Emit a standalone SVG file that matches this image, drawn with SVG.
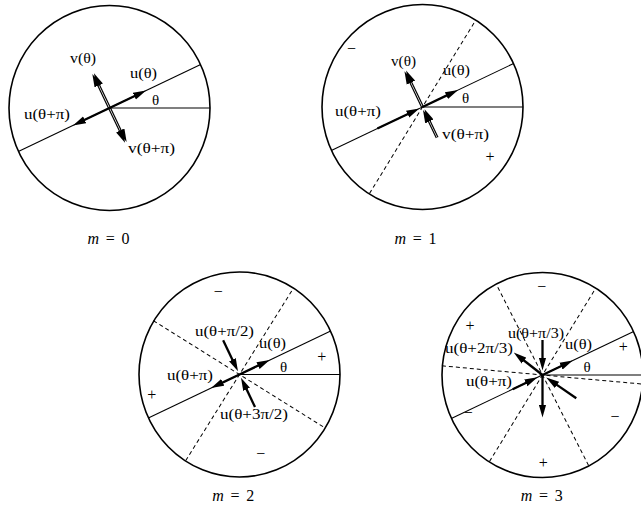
<svg xmlns="http://www.w3.org/2000/svg" width="641" height="518" viewBox="0 0 641 518">
<defs>
<marker id="ah" viewBox="0 0 13 8" refX="4.5" refY="4" markerWidth="13" markerHeight="8" markerUnits="userSpaceOnUse" orient="auto"><path d="M0,0.3 L13,4 L0,7.7 Z" fill="#000"/></marker>
</defs>
<style>
.c{fill:none;stroke:#000;stroke-width:1.6}
.l{stroke:#000;stroke-width:1.1;fill:none}
.d{stroke:#000;stroke-width:1;stroke-dasharray:4 3;fill:none}
.a{stroke:#000;stroke-width:2.3;marker-end:url(#ah)}
.v{stroke:#000;stroke-width:1.2;marker-end:url(#ah)}
text{font-family:"Liberation Serif","Times New Roman",serif;font-size:15px;fill:#000}
.s{font-size:16px;text-anchor:middle}
.m{font-size:16px;text-anchor:middle}
</style>
<rect width="641" height="518" fill="#fff"/>

<g id="panel-m0">
<g transform="translate(109.5,108)">
<ellipse class="c" rx="100.5" ry="102.5"/>
<line class="l" x1="-101" x2="101" transform="rotate(-25.5)"/>
<line class="l" x1="0" x2="100.5"/>
<g id="arrows-m0">
<line class="a" x1="0" x2="32" transform="rotate(-25.5)"/>
<line class="a" x1="0" x2="32" transform="rotate(154.5)"/>
<g transform="rotate(-115.5)"><line class="v" x1="0" y1="-0.9" x2="29.5" y2="-0.9"/><line class="v" x1="0" y1="0.9" x2="29.5" y2="0.9"/></g>
<g transform="rotate(64.5)"><line class="v" x1="0" y1="-0.9" x2="29.5" y2="-0.9"/><line class="v" x1="0" y1="0.9" x2="29.5" y2="0.9"/></g>
</g>
</g>
<text x="70" y="63" textLength="26" lengthAdjust="spacingAndGlyphs">v(θ)</text>
<text x="130" y="78" textLength="27" lengthAdjust="spacingAndGlyphs">u(θ)</text>
<text x="152" y="105">θ</text>
<text x="24" y="119" textLength="46" lengthAdjust="spacingAndGlyphs">u(θ+π)</text>
<text x="128" y="153" textLength="47" lengthAdjust="spacingAndGlyphs">v(θ+π)</text>
<text class="m" x="108.5" y="244" textLength="42" lengthAdjust="spacing"><tspan font-style="italic">m</tspan> = 0</text>
</g>

<g id="panel-m1">
<g transform="translate(422.5,107)">
<ellipse class="c" rx="100.5" ry="102.5"/>
<line class="l" x1="-101" x2="101" transform="rotate(-25.5)"/>
<line class="l" x1="0" x2="100.5"/>
<line class="d" x1="-101.5" x2="101.5" transform="rotate(-58.5)"/>
<g id="arrows-m1">
<line class="a" x1="0" x2="31" transform="rotate(-25.5)"/>
<line class="a" x1="50" x2="12" transform="rotate(154.5)"/>
<g transform="rotate(-115.5)"><line class="v" x1="0" y1="-0.9" x2="31.5" y2="-0.9"/><line class="v" x1="0" y1="0.9" x2="31.5" y2="0.9"/></g>
<g transform="rotate(64.5)"><line class="v" x1="34" y1="-0.9" x2="11.5" y2="-0.9"/><line class="v" x1="34" y1="0.9" x2="11.5" y2="0.9"/></g>
</g>
</g>
<text class="s" x="351.5" y="54">−</text>
<text x="391" y="66" textLength="25" lengthAdjust="spacingAndGlyphs">v(θ)</text>
<text x="443" y="75" textLength="27" lengthAdjust="spacingAndGlyphs">u(θ)</text>
<text x="462" y="103">θ</text>
<text x="335" y="116" textLength="46" lengthAdjust="spacingAndGlyphs">u(θ+π)</text>
<text x="442" y="139" textLength="47" lengthAdjust="spacingAndGlyphs">v(θ+π)</text>
<text class="s" x="490" y="162">+</text>
<text class="m" x="415.5" y="244" textLength="42" lengthAdjust="spacing"><tspan font-style="italic">m</tspan> = 1</text>
</g>

<g id="panel-m2">
<g transform="translate(239.5,374.5)">
<ellipse class="c" rx="100.5" ry="102.5"/>
<line class="l" x1="-101" x2="101" transform="rotate(-25.5)"/>
<line class="l" x1="0" x2="100.5"/>
<line class="d" x1="-101.5" x2="101.5" transform="rotate(-58)"/>
<line class="d" x1="-101.5" x2="101.5" transform="rotate(32)"/>
<g id="arrows-m2">
<line class="a" x1="0" x2="25" transform="rotate(-25.5)"/>
<line class="a" x1="0" x2="23" transform="rotate(154.5)"/>
<line class="a" x1="38" x2="12" transform="rotate(-115.5)"/>
<line class="a" x1="36" x2="12" transform="rotate(64.5)"/>
</g>
</g>
<text class="s" x="218.3" y="296.5">−</text>
<text x="195" y="336" textLength="59" lengthAdjust="spacingAndGlyphs">u(θ+π/2)</text>
<text x="259" y="347.5" textLength="27" lengthAdjust="spacingAndGlyphs">u(θ)</text>
<text class="s" x="321.7" y="362.3">+</text>
<text x="280" y="371.5">θ</text>
<text x="167" y="379.5" textLength="46" lengthAdjust="spacingAndGlyphs">u(θ+π)</text>
<text class="s" x="151.7" y="400">+</text>
<text x="220" y="419" textLength="68" lengthAdjust="spacingAndGlyphs">u(θ+3π/2)</text>
<text class="s" x="260.7" y="459">−</text>
<text class="m" x="233.3" y="501" textLength="42" lengthAdjust="spacing"><tspan font-style="italic">m</tspan> = 2</text>
</g>

<g id="panel-m3">
<g transform="translate(542.5,375)">
<ellipse class="c" rx="100.5" ry="102.5"/>
<line class="l" x1="-101" x2="101" transform="rotate(-25.5)"/>
<line class="l" x1="0" x2="100.5"/>
<line class="d" x1="-101.5" x2="101.5" transform="rotate(-58.5)"/>
<line class="d" x1="-101.5" x2="101.5" transform="rotate(-117)"/>
<line class="d" x1="-101" x2="101" transform="rotate(5.2)"/>
<g id="arrows-m3">
<line class="a" x1="0" x2="25" transform="rotate(-25.5)"/>
<line class="a" x1="33" x2="14" transform="rotate(154.5)"/>
<line class="a" x1="35" x2="13" transform="rotate(-90)"/>
<line class="a" x1="0" x2="28" transform="rotate(-142)"/>
<line class="a" x1="0" x2="34" transform="rotate(90)"/>
<line class="a" x1="41" x2="13" transform="rotate(34.5)"/>
</g>
</g>
<text class="s" x="541.7" y="291.5">−</text>
<text class="s" x="470" y="331">+</text>
<text x="508" y="337.5" textLength="56" lengthAdjust="spacingAndGlyphs">u(θ+π/3)</text>
<text x="445" y="352.5" textLength="68" lengthAdjust="spacingAndGlyphs">u(θ+2π/3)</text>
<text x="565" y="349" textLength="27" lengthAdjust="spacingAndGlyphs">u(θ)</text>
<text class="s" x="623.3" y="351.7">+</text>
<text x="583.5" y="371.5">θ</text>
<text x="466" y="386" textLength="46" lengthAdjust="spacingAndGlyphs">u(θ+π)</text>
<text class="s" x="468.3" y="418.3">−</text>
<text class="s" x="615" y="421.7">−</text>
<text class="s" x="543.3" y="468.3">+</text>
<text class="m" x="541.7" y="500.5" textLength="42" lengthAdjust="spacing"><tspan font-style="italic">m</tspan> = 3</text>
</g>
</svg>
